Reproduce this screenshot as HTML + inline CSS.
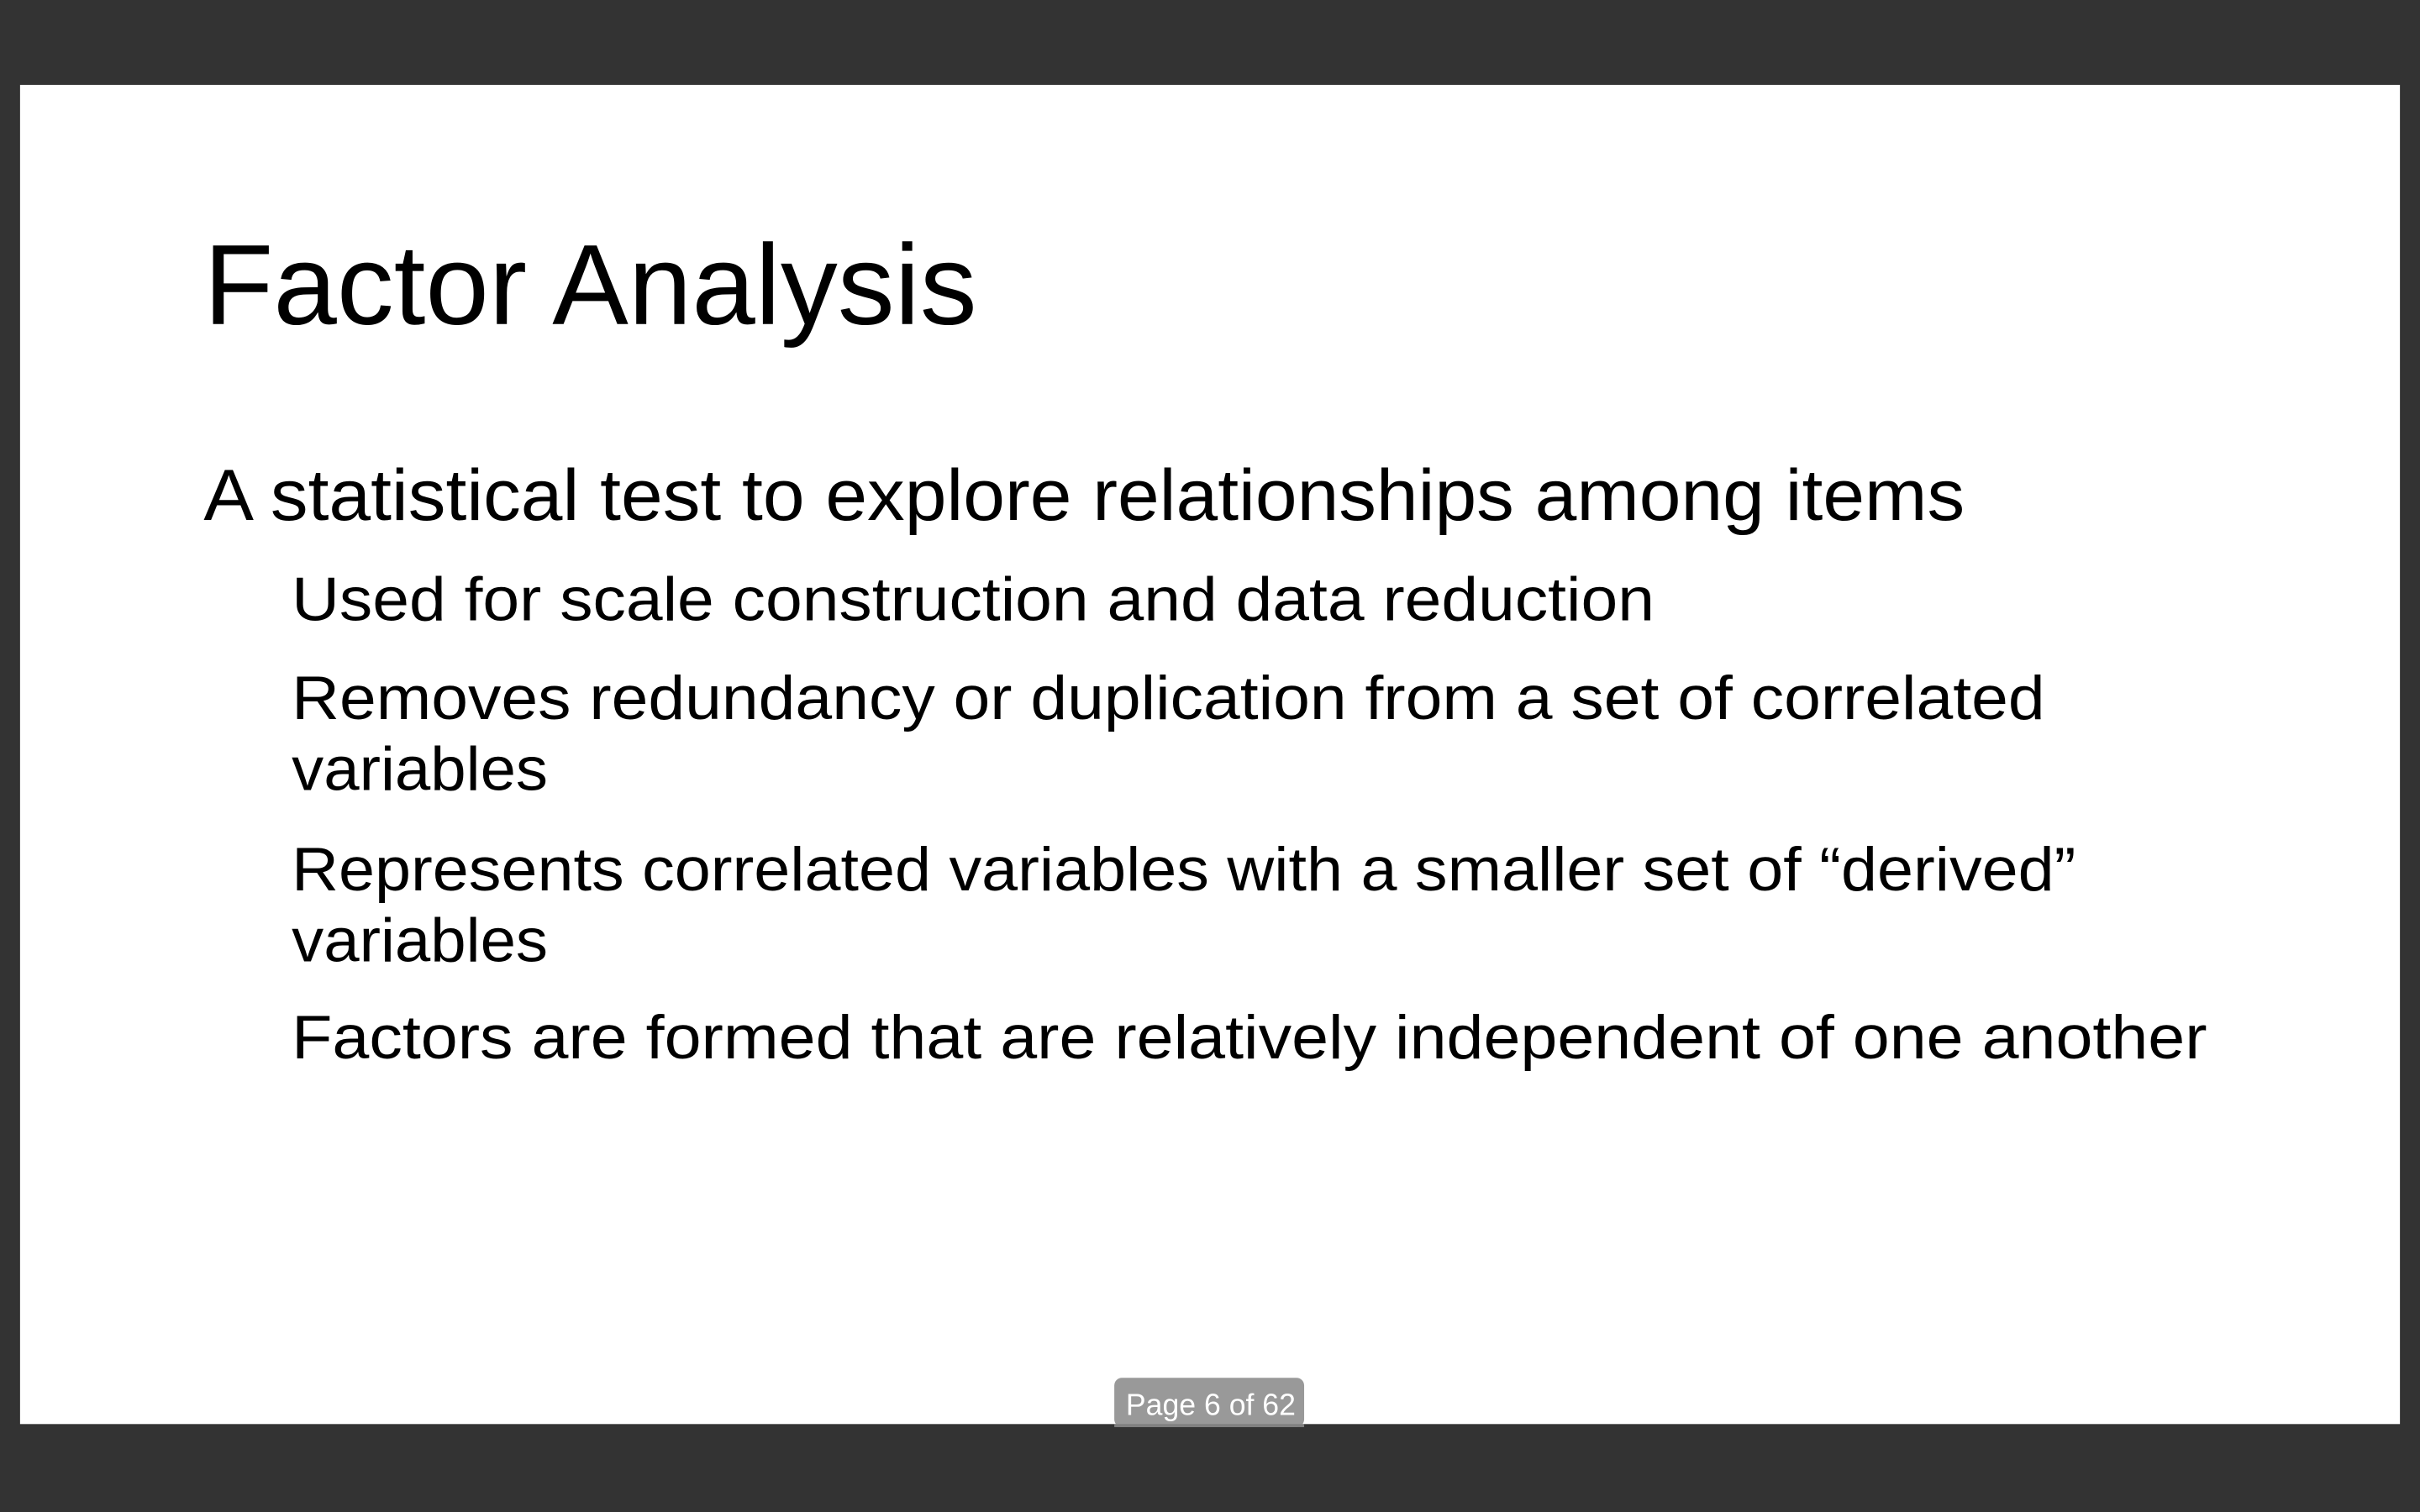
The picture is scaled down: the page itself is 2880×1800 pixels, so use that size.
<!DOCTYPE html>
<html><head><meta charset="utf-8"><style>
html,body{margin:0;padding:0;background:#333;}
svg{display:block}
</style></head><body>
<svg width="2880" height="1800" viewBox="0 0 1568 980" xmlns="http://www.w3.org/2000/svg">
<rect x="0" y="0" width="1568" height="980" fill="#333333"/>
<rect x="13" y="55" width="1542" height="868" fill="#ffffff"/>
<g font-family="'Liberation Sans', sans-serif" fill="#000">
<text x="132" y="210" font-size="74" textLength="501" lengthAdjust="spacingAndGlyphs">Factor Analysis</text>
<text x="132" y="337" font-size="47" textLength="1141" lengthAdjust="spacingAndGlyphs">A statistical test to explore relationships among items</text>
<text x="189" y="402" font-size="40" textLength="883" lengthAdjust="spacingAndGlyphs">Used for scale construction and data reduction</text>
<text x="189" y="466" font-size="40" textLength="1136" lengthAdjust="spacingAndGlyphs">Removes redundancy or duplication from a set of correlated</text>
<text x="189" y="512" font-size="40" textLength="166" lengthAdjust="spacingAndGlyphs">variables</text>
<text x="189" y="577" font-size="40" textLength="1156" lengthAdjust="spacingAndGlyphs">Represents correlated variables with a smaller set of “derived”</text>
<text x="189" y="623" font-size="40" textLength="166" lengthAdjust="spacingAndGlyphs">variables</text>
<text x="189" y="686" font-size="40" textLength="1241" lengthAdjust="spacingAndGlyphs">Factors are formed that are relatively independent of one another</text>
</g>
<rect x="722" y="893" width="123" height="32" rx="5" fill="#999999"/>
<rect x="722" y="923" width="123" height="2" fill="#808080"/>
<text x="729.5" y="917" font-family="'Liberation Sans', sans-serif" font-size="19.5" fill="#fff" textLength="110" lengthAdjust="spacingAndGlyphs">Page 6 of 62</text>
</svg>
</body></html>
